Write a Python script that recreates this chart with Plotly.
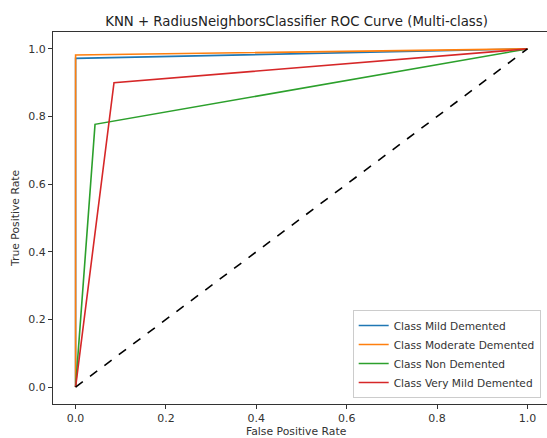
import plotly.graph_objects as go

class_names = ["Class Mild Demented", "Class Moderate Demented", "Class Non Demented", "Class Very Mild Demented"]
fpr_mild = [0.0, 0.0, 1.0]
tpr_mild = [0.0, 0.972, 1.0]
fpr_moderate = [0.0, 0.0, 1.0]
tpr_moderate = [0.0, 0.982, 1.0]
fpr_non = [0.0, 0.043, 1.0]
tpr_non = [0.0, 0.777, 1.0]
fpr_verymild = [0.0, 0.085, 1.0]
tpr_verymild = [0.0, 0.900, 1.0]
diag = [0.0, 1.0]
ticks = [0.0, 0.2, 0.4, 0.6, 0.8, 1.0]

colors = ["#1f77b4", "#ff7f0e", "#2ca02c", "#d62728"]
font = "DejaVu Sans"

fig = go.Figure()
series = [(fpr_mild, tpr_mild), (fpr_moderate, tpr_moderate), (fpr_non, tpr_non), (fpr_verymild, tpr_verymild)]
for (fx, ty), name, c in zip(series, class_names, colors):
    fig.add_trace(go.Scatter(x=fx, y=ty, mode="lines", name=name,
                             line=dict(color=c, width=1.6)))
fig.add_trace(go.Scatter(x=diag, y=diag, mode="lines", showlegend=False,
                         line=dict(color="black", width=1.6, dash="dash")))

fig.update_layout(
    width=550, height=438,
    margin=dict(l=53, r=0, t=32, b=34),
    paper_bgcolor="white", plot_bgcolor="white",
    font=dict(family=font, size=11, color="#333"),
    title=dict(text="KNN + RadiusNeighborsClassifier ROC Curve (Multi-class)",
               x=0.49, xref="paper", y=1, yref="paper", yanchor="bottom",
               pad=dict(b=6), font=dict(size=13.3, color="#222")),
    legend=dict(x=0.603, y=0.016, xanchor="left", yanchor="bottom",
                bgcolor="rgba(255,255,255,0.9)", bordercolor="#ccc", borderwidth=1,
                font=dict(size=10.6, color="#333"), itemwidth=30,
                tracegroupgap=0),
    showlegend=True,
    annotations=[
        dict(text="False Positive Rate", x=0.49, y=0, xref="paper", yref="paper",
             xanchor="center", yanchor="top", yshift=-19, showarrow=False,
             font=dict(size=10.8, color="#333")),
        dict(text="True Positive Rate", x=0, y=0.5, xref="paper", yref="paper",
             xanchor="center", yanchor="middle", xshift=-38, textangle=-90,
             showarrow=False, font=dict(size=10.8, color="#333")),
    ],
)
fig.update_xaxes(range=[-0.05, 1.05], tickvals=ticks, tickformat=".1f",
                 showgrid=False, zeroline=False, showline=True, mirror=True,
                 linecolor="#333", linewidth=1, ticks="outside", ticklen=4,
                 tickcolor="#333")
fig.update_yaxes(range=[-0.05, 1.05], tickvals=ticks, tickformat=".1f",
                 showgrid=False, zeroline=False, showline=True, mirror=False,
                 linecolor="#333", linewidth=1, ticks="outside", ticklen=4,
                 tickcolor="#333")

fig.write_html("out.html", config={"displayModeBar": False},
               post_script="document.body.style.margin='0';document.body.style.padding='0';document.body.style.overflow='hidden';")
